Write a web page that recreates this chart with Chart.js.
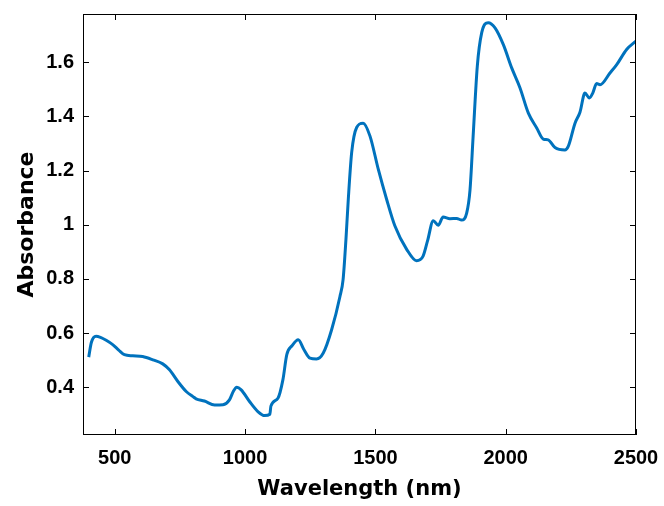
<!DOCTYPE html>
<html>
<head>
<meta charset="utf-8">
<script src="https://cdn.jsdelivr.net/npm/chart.js@4"></script>
<style>
  body { margin: 0; background: #fff; }
  canvas { display: block; }
</style>
</head>
<body>
<canvas id="spectrum" width="664" height="506"></canvas>
<script>
// spectrum
const wavelength = [400, 410, 428, 445, 467, 492, 515, 537, 569, 607, 646, 684, 710, 742, 774, 800, 812, 844, 883, 915,
    940, 955, 968, 985, 1017, 1049, 1075, 1095, 1099, 1126, 1145, 1160, 1180, 1204, 1225, 1249, 1274, 1300, 1332, 1364,
    1376, 1387, 1396, 1409, 1428, 1453, 1479, 1511, 1543, 1575, 1620, 1658, 1683, 1700, 1722, 1741, 1760, 1786, 1812, 1831,
    1850, 1863, 1875, 1891, 1908, 1933, 1959, 1991, 2023, 2055, 2087, 2119, 2144, 2163, 2189, 2227, 2240, 2266, 2285, 2304,
    2321, 2334, 2349, 2362, 2400, 2426, 2464, 2500];
const absorbance = [0.511, 0.565, 0.588, 0.584, 0.573, 0.557, 0.537, 0.520, 0.516, 0.513, 0.501, 0.486, 0.464, 0.421, 0.384, 0.365, 0.357, 0.349, 0.334, 0.335,
    0.353, 0.385, 0.400, 0.390, 0.347, 0.310, 0.295, 0.300, 0.330, 0.359, 0.427, 0.520, 0.553, 0.575, 0.540, 0.507, 0.504, 0.526, 0.612, 0.735,
    0.797, 0.946, 1.094, 1.267, 1.359, 1.375, 1.328, 1.205, 1.094, 0.995, 0.909, 0.867, 0.884, 0.940, 1.015, 0.998, 1.028, 1.022, 1.023, 1.017,
    1.042, 1.128, 1.326, 1.585, 1.709, 1.746, 1.727, 1.665, 1.579, 1.505, 1.412, 1.357, 1.316, 1.313, 1.285, 1.276, 1.289, 1.375, 1.415, 1.486,
    1.468, 1.486, 1.521, 1.517, 1.560, 1.591, 1.647, 1.678];

const xTicks = [500, 1000, 1500, 2000, 2500];
const yTicks = [0.4, 0.6, 0.8, 1, 1.2, 1.4, 1.6];

const tickFont = { family: 'Liberation Sans, Arial, sans-serif', size: 20, weight: 'bold' };
const xTitleFont = { family: 'DejaVu Sans, sans-serif', size: 21, weight: 'bold', lineHeight: 1.2 };
const yTitleFont = { family: 'DejaVu Sans, sans-serif', size: 22, weight: 'bold', lineHeight: 1.2 };

// matlab-style box with inward ticks on all four sides
const boxPlugin = {
    id: 'box',
    afterDraw(chart) {
        const ctx = chart.ctx;
        const a = chart.chartArea;
        const xs = chart.scales.x, ys = chart.scales.y;
        const len = 6;
        ctx.save();
        ctx.strokeStyle = '#000';
        ctx.lineWidth = 1;
        ctx.strokeRect(a.left + 0.5, a.top + 0.5, a.right - a.left - 1, a.bottom - a.top - 1);
        ctx.beginPath();
        xTicks.forEach(v => {
            const px = Math.round(xs.getPixelForValue(v)) + 0.5;
            ctx.moveTo(px, a.bottom);
            ctx.lineTo(px, a.bottom - len);
            ctx.moveTo(px, a.top);
            ctx.lineTo(px, a.top + len);
        });
        yTicks.forEach(v => {
            const py = Math.round(ys.getPixelForValue(v)) + 0.5;
            ctx.moveTo(a.left, py);
            ctx.lineTo(a.left + len, py);
            ctx.moveTo(a.right, py);
            ctx.lineTo(a.right - len, py);
        });
        ctx.stroke();
        ctx.restore();
    }
};

new Chart(document.getElementById('spectrum'), {
    type: 'line',
    data: {
        datasets: [{
            data: wavelength.map((w, i) => ({ x: w, y: absorbance[i] })),
            borderColor: '#0072BD',
            borderWidth: 3,
            pointRadius: 0,
            cubicInterpolationMode: 'monotone',
            fill: false
        }]
    },
    options: {
        responsive: false,
        animation: false,
        layout: { padding: { top: 14, right: 28, left: 0, bottom: 0 } },
        plugins: {
            legend: { display: false },
            tooltip: { enabled: false }
        },
        scales: {
            x: {
                type: 'linear',
                min: 378,
                max: 2500,
                afterFit(scale) {
                    scale.height = 71;
                    scale.paddingLeft = 0;
                    scale.paddingRight = 0;
                },
                afterBuildTicks(scale) { scale.ticks = xTicks.map(v => ({ value: v })); },
                grid: { display: false, drawTicks: false },
                border: { display: false },
                ticks: {
                    color: '#000',
                    font: tickFont,
                    padding: 11,
                    maxRotation: 0,
                    autoSkip: false,
                    callback: v => String(v)
                },
                title: {
                    display: true,
                    text: 'Wavelength (nm)',
                    color: '#000',
                    font: xTitleFont,
                    padding: { top: 0, bottom: 4 }
                }
            },
            y: {
                type: 'linear',
                min: 0.2234,
                max: 1.778,
                afterFit(scale) {
                    scale.width = 83;
                    scale.paddingTop = 0;
                    scale.paddingBottom = 0;
                },
                afterBuildTicks(scale) { scale.ticks = yTicks.map(v => ({ value: v })); },
                grid: { display: false, drawTicks: false },
                border: { display: false },
                ticks: {
                    color: '#000',
                    font: tickFont,
                    padding: 9,
                    autoSkip: false,
                    callback: v => String(Number(v.toFixed(2)))
                },
                title: {
                    display: true,
                    text: 'Absorbance',
                    color: '#000',
                    font: yTitleFont,
                    padding: { top: 14, bottom: 0 }
                }
            }
        }
    },
    plugins: [boxPlugin]
});
</script>
</body>
</html>
